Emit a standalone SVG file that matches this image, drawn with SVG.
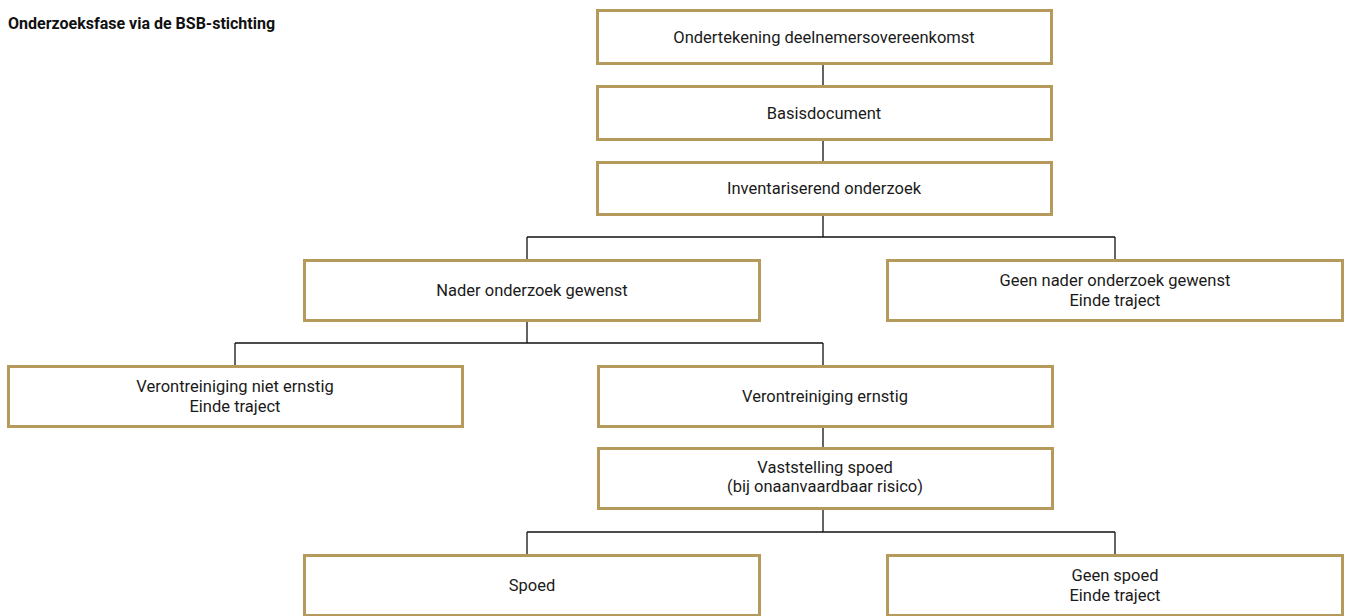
<svg xmlns="http://www.w3.org/2000/svg" width="1348" height="616" viewBox="0 0 1348 616">
<style>
.box{fill:#fff;stroke:#b59a5b;stroke-width:3}
.t{font-family:Roboto,"Liberation Sans",sans-serif;font-size:16.5px;fill:#1a1a1a;text-anchor:middle}
.title{font-family:Roboto,"Liberation Sans",sans-serif;font-size:16px;font-weight:bold;fill:#111}
.c{fill:none;stroke:#111;stroke-width:1.3}
</style>
<rect width="1348" height="616" fill="#fff"/>
<text class="title" x="8" y="29">Onderzoeksfase via de BSB-stichting</text>
<g id="connectors">
<path class="c" d="M823 63V86M823 139V162M823 214V237M527 237H1115M527 237V260M1115 237V260"/>
<path class="c" d="M527 320V343M235 343H823M235 343V366M823 343V366"/>
<path class="c" d="M823 427V448M823 509V532M527 532H1115M527 532V555M1115 532V555"/>
</g>
<g id="n1"><rect class="box" x="597.5" y="10.5" width="454" height="53"/><text class="t" x="824" y="42.5">Ondertekening deelnemersovereenkomst</text></g>
<g id="n2"><rect class="box" x="597.5" y="86.5" width="454" height="53"/><text class="t" x="824" y="118.5">Basisdocument</text></g>
<g id="n3"><rect class="box" x="597.5" y="162.5" width="454" height="52"/><text class="t" x="824" y="193.5">Inventariserend onderzoek</text></g>
<g id="n4"><rect class="box" x="304.5" y="260.5" width="455" height="60"/><text class="t" x="532" y="296">Nader onderzoek gewenst</text></g>
<g id="n5"><rect class="box" x="887.5" y="260.5" width="455" height="60"/><text class="t" x="1115" y="286">Geen nader onderzoek gewenst</text><text class="t" x="1115" y="306">Einde traject</text></g>
<g id="n6"><rect class="box" x="8.5" y="366.5" width="454" height="60"/><text class="t" x="235" y="392">Verontreiniging niet ernstig</text><text class="t" x="235" y="412">Einde traject</text></g>
<g id="n7"><rect class="box" x="598.5" y="366.5" width="454" height="60"/><text class="t" x="825" y="402">Verontreiniging ernstig</text></g>
<g id="n8"><rect class="box" x="598.5" y="448.5" width="454" height="60"/><text class="t" x="825" y="473">Vaststelling spoed</text><text class="t" x="825" y="492">(bij onaanvaardbaar risico)</text></g>
<g id="n9"><rect class="box" x="304.5" y="555.5" width="455" height="60"/><text class="t" x="532" y="591">Spoed</text></g>
<g id="n10"><rect class="box" x="887.5" y="555.5" width="455" height="60"/><text class="t" x="1115" y="581">Geen spoed</text><text class="t" x="1115" y="601">Einde traject</text></g>
</svg>
